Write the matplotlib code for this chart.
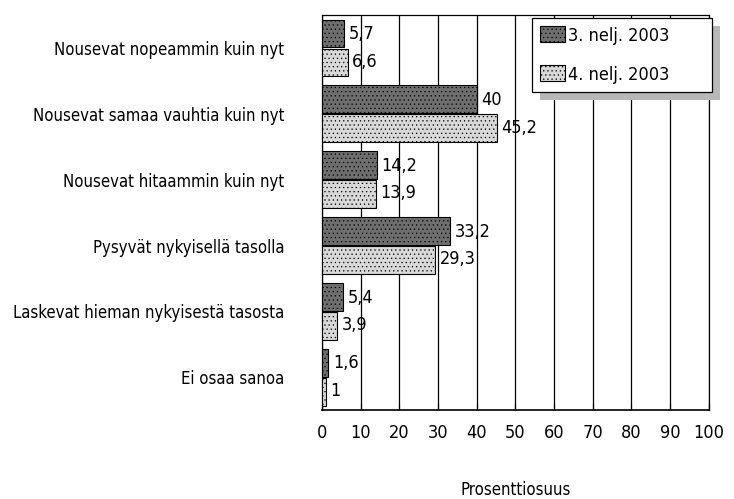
import numpy as np
import matplotlib.pyplot as plt
from matplotlib.patches import Rectangle

# data
categories = ['Nousevat nopeammin kuin nyt',
              'Nousevat samaa vauhtia kuin nyt',
              'Nousevat hitaammin kuin nyt',
              'Pysyvät nykyisellä tasolla',
              'Laskevat hieman nykyisestä tasosta',
              'Ei osaa sanoa']
q3_2003 = [5.7, 40, 14.2, 33.2, 5.4, 1.6]
q4_2003 = [6.6, 45.2, 13.9, 29.3, 3.9, 1]
q3_labels = ['5,7', '40', '14,2', '33,2', '5,4', '1,6']
q4_labels = ['6,6', '45,2', '13,9', '29,3', '3,9', '1']
series_names = ['3. nelj. 2003', '4. nelj. 2003']

plt.rcParams['font.family'] = ['DejaVu Sans']
plt.rcParams['font.stretch'] = 'condensed'
plt.rcParams['hatch.linewidth'] = 0.4

fig = plt.figure(figsize=(7.34, 4.99), dpi=100)
ax = fig.add_axes([0.4387, 0.178, 0.527, 0.792])

y = np.arange(len(categories))
h = 0.42
gap = 0.02
ax.barh(y - h / 2 - gap / 2, q3_2003, height=h, color='#6e6e6e', edgecolor='black',
        linewidth=0.8, hatch='....', label=series_names[0], zorder=3)
ax.barh(y + h / 2 + gap / 2, q4_2003, height=h, color='#d8d8d8', edgecolor='black',
        linewidth=0.8, hatch='....', label=series_names[1], zorder=3)

for yi, v, t in zip(y, q3_2003, q3_labels):
    ax.text(v + 1.2, yi - h / 2, t, va='center', ha='left', fontsize=13, zorder=4)
for yi, v, t in zip(y, q4_2003, q4_labels):
    ax.text(v + 1.2, yi + h / 2, t, va='center', ha='left', fontsize=13, zorder=4)

ax.set_xlim(0, 100)
ax.set_ylim(len(categories) - 0.5, -0.5)
ax.set_xticks(np.arange(0, 101, 10))
ax.set_yticks(y)
ax.set_yticklabels(categories, fontsize=12)
ax.tick_params(axis='y', length=0, pad=27)
ax.tick_params(axis='x', labelsize=13, length=5, direction='in', pad=10)
ax.grid(axis='x', color='black', linewidth=0.9, zorder=0)
for s in ['top', 'right', 'left']:
    ax.spines[s].set_linewidth(0.9)
ax.spines['bottom'].set_linewidth(1.2)

ax.set_xlabel('Prosenttiosuus', fontsize=12, labelpad=28)

leg = ax.legend(loc='upper left', bbox_to_anchor=(0.543, 0.0, 0.465, 0.992),
                mode='expand', fontsize=13, frameon=True, fancybox=False,
                handlelength=1.4, handleheight=1.0, handletextpad=0.15,
                borderpad=0.45, labelspacing=1.15, borderaxespad=0,
                edgecolor='black', framealpha=1)
leg.get_frame().set_linewidth(0.9)
leg.set_zorder(6)

# offset shadow behind the legend box
fig.canvas.draw()
bb = leg.get_window_extent().transformed(fig.transFigure.inverted())
dx, dy = 8 / 734, 8 / 499
shadow = Rectangle((bb.x0 + dx, bb.y0 - dy), bb.width, bb.height,
                   transform=fig.transFigure, facecolor='#b8b8b8',
                   edgecolor='none', hatch='....', zorder=5)
ax.add_artist(shadow)
shadow.set_clip_on(False)

fig.savefig('out.png', dpi=100)
